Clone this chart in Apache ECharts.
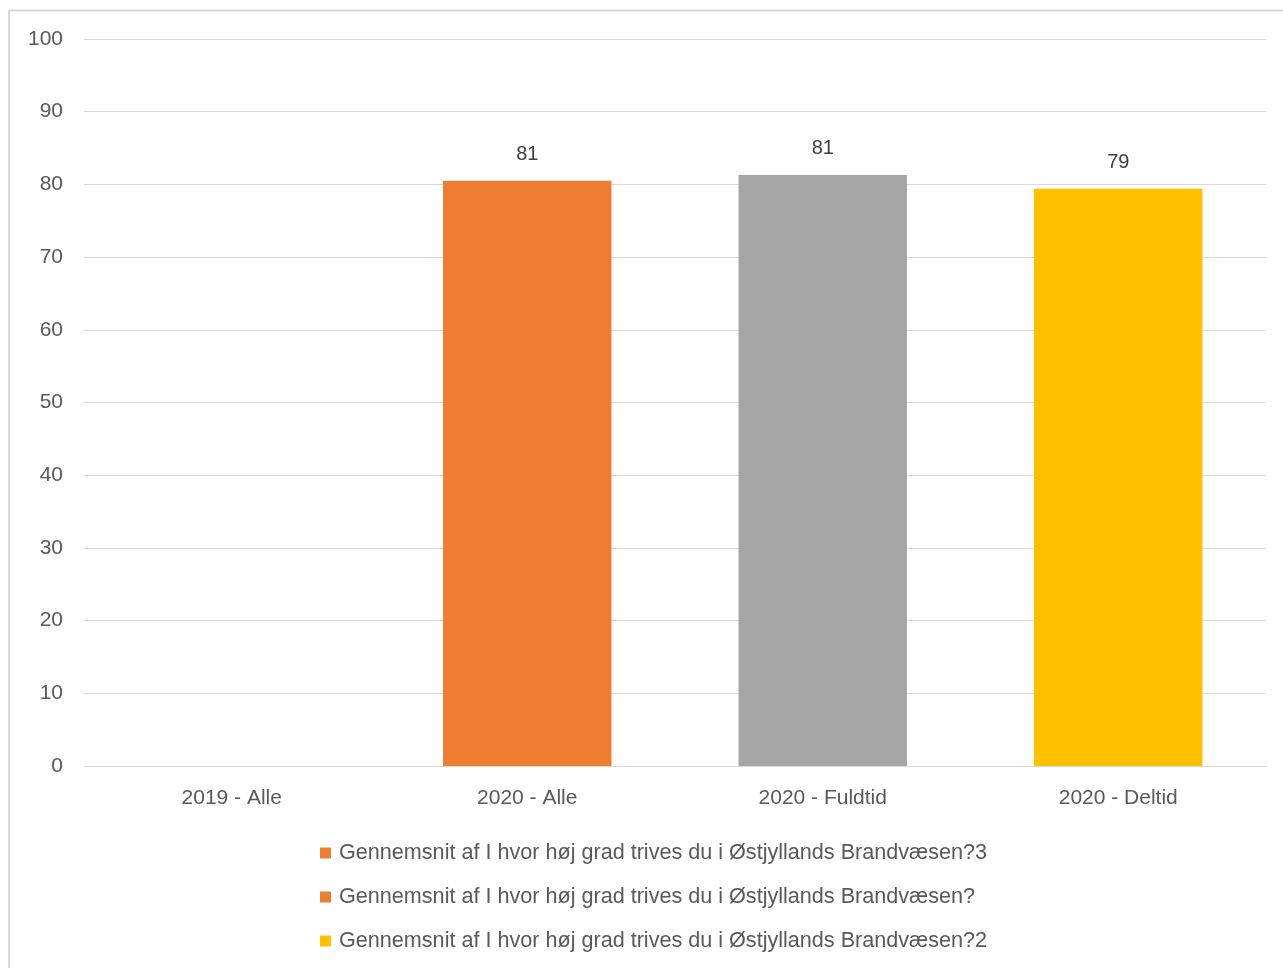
<!DOCTYPE html>
<html><head><meta charset="utf-8">
<script src="https://cdn.jsdelivr.net/npm/echarts@6/dist/echarts.min.js"></script>
<style>html,body{margin:0;padding:0;background:#fff}#c{width:1283px;height:968px}</style>
</head><body><div id="c"></div>
<script>
const categories = ['2019 - Alle', '2020 - Alle', '2020 - Fuldtid', '2020 - Deltid'];
const seriesNames = [
  'Gennemsnit af I hvor høj grad trives du i Østjyllands Brandvæsen?3',
  'Gennemsnit af I hvor høj grad trives du i Østjyllands Brandvæsen?',
  'Gennemsnit af I hvor høj grad trives du i Østjyllands Brandvæsen?2'
];
const values3 = [null, 80.5, null, null];
const values1 = [null, null, 81.3, null];
const values2 = [null, null, null, 79.4];
const seriesColors = ['#ED7D31', '#ED7D31', '#FFC000'];
const barColors = ['#ED7D31', '#A5A5A5', '#FFC000'];

const font = 'Liberation Sans';
const chart = echarts.init(document.getElementById('c'));
const seriesData = [values3, values1, values2];
chart.setOption({
  animation: false,
  graphic: [{
    type: 'rect', shape: {x: 9, y: 10.5, width: 1300, height: 1000},
    style: {fill: 'none', stroke: '#d9d9d9', lineWidth: 2}, z: -1
  }],
  grid: {left: 84, right: 17, top: 39, bottom: 202},
  xAxis: {
    type: 'category', data: categories,
    axisLine: {lineStyle: {color: '#d9d9d9', width: 1}},
    axisTick: {show: false},
    axisLabel: {color: '#595959', fontSize: 21, fontFamily: font, margin: 22}
  },
  yAxis: {
    type: 'value', min: 0, max: 100, interval: 10,
    axisLine: {show: false}, axisTick: {show: false},
    splitLine: {lineStyle: {color: '#d9d9d9'}},
    axisLabel: {color: '#595959', fontSize: 21, fontFamily: font, margin: 21}
  },
  legend: {
    orient: 'vertical', left: 315, top: 837, itemGap: 22,
    itemWidth: 11, itemHeight: 11, icon: 'rect',
    textStyle: {color: '#595959', fontSize: 21.6, fontFamily: font, padding: [0,0,0,3]},
    data: seriesNames
  },
  series: seriesNames.map((n, i) => ({
    name: n, type: 'bar', stack: 'a', barWidth: '57%',
    itemStyle: {color: seriesColors[i]},
    data: seriesData[i].map(v => v == null ? null : {value: v, itemStyle: {color: barColors[i]}}),
    label: {show: true, position: 'top', distance: 16, color: '#404040', fontSize: 20, fontFamily: font,
      formatter: p => Math.round(p.value)}
  }))
});
</script></body></html>
